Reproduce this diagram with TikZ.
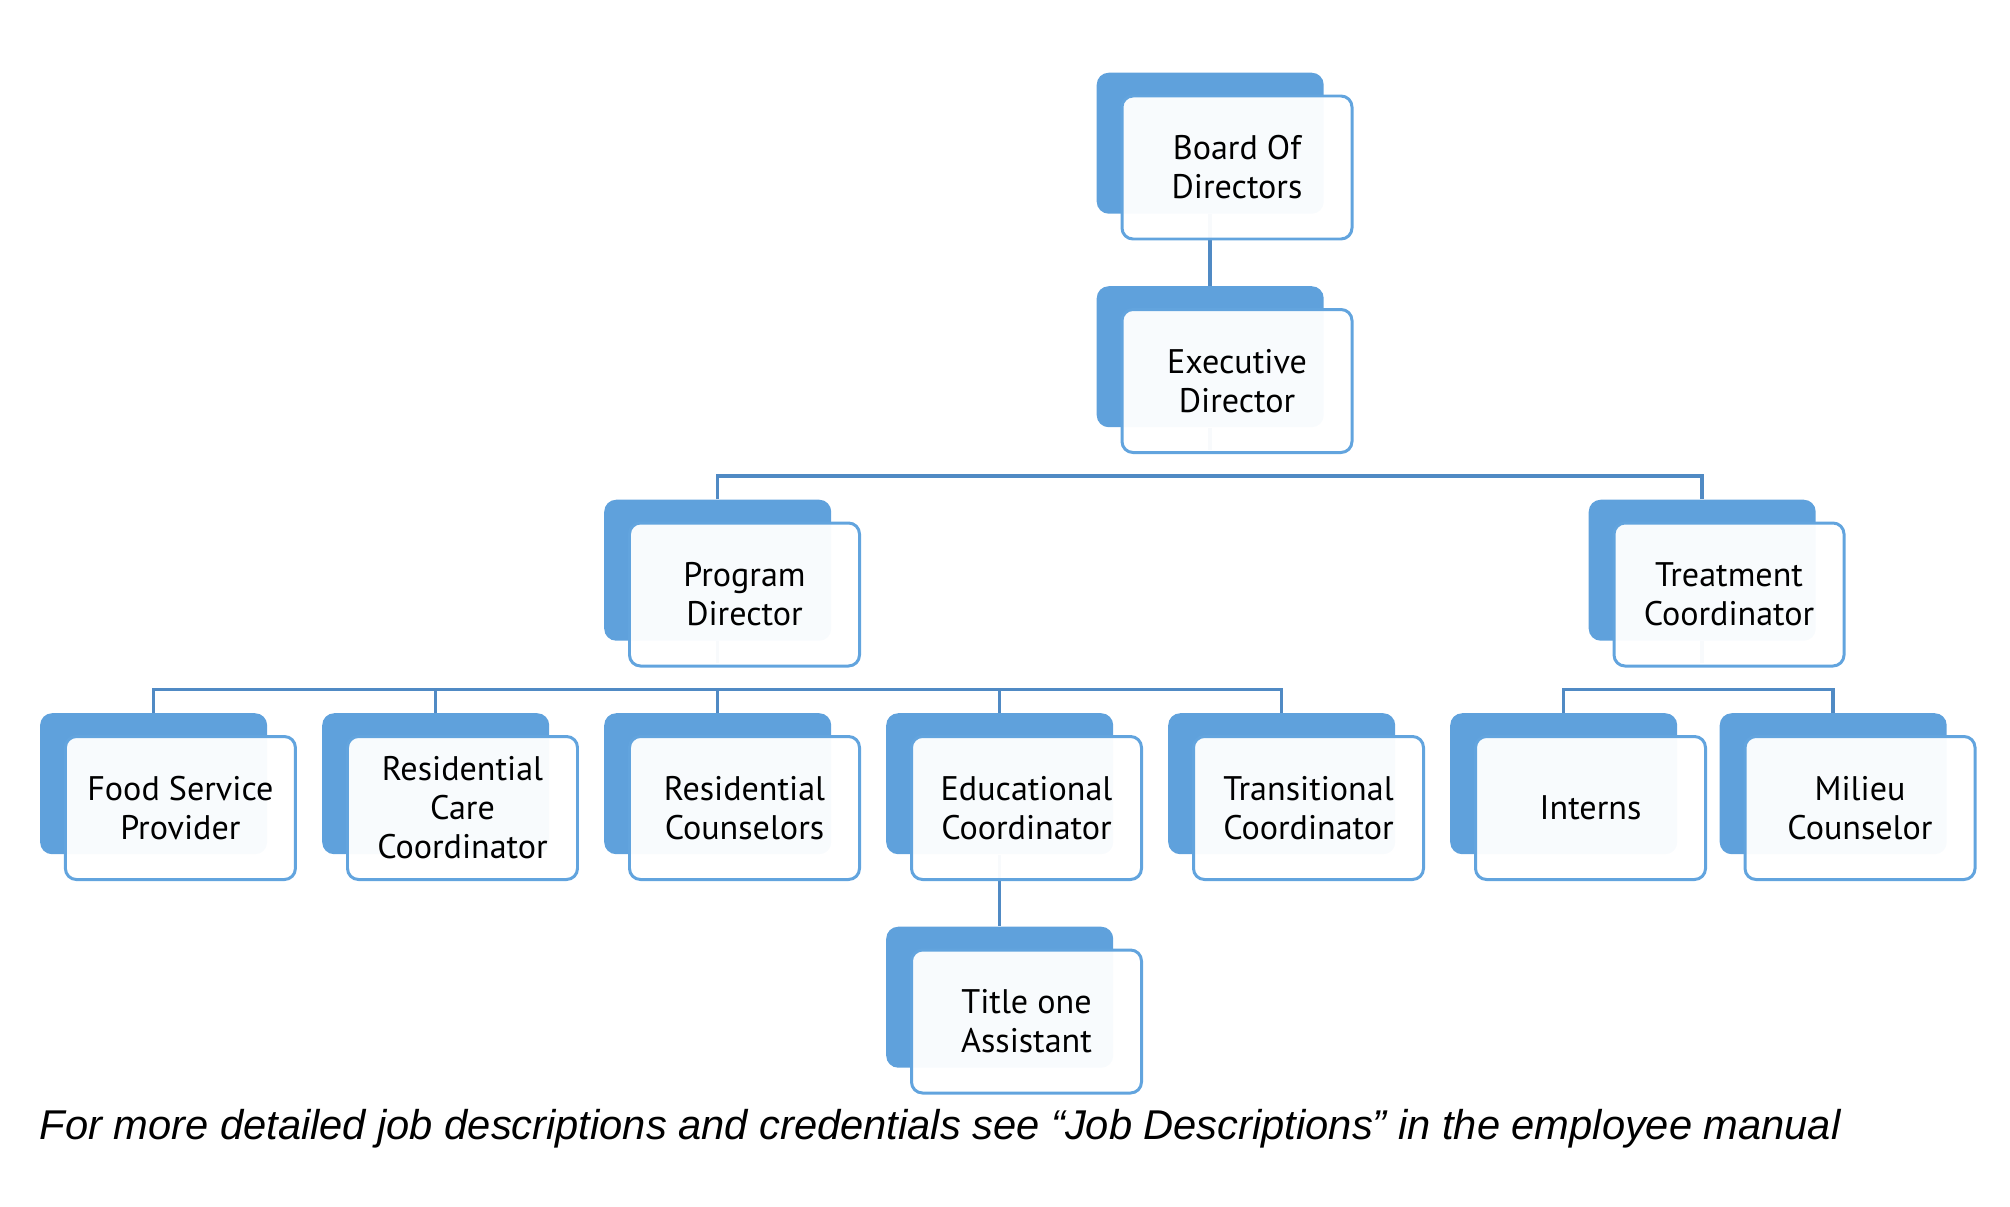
\documentclass[tikz,border=0pt]{standalone}
\usepackage{fontspec}
\setmainfont{PT Sans}
\newfontfamily\notefont{Liberation Sans}
\definecolor{backblue}{RGB}{95,161,220}
\definecolor{edgeblue}{RGB}{98,164,222}
\definecolor{linkblue}{RGB}{80,138,196}
\begin{document}
\begin{tikzpicture}[
    backbox/.style={rectangle, rounded corners=0.12cm, fill=backblue, minimum width=2.27cm, minimum height=1.41cm, inner sep=0pt, anchor=north west},
    frontbox/.style={rectangle, rounded corners=0.11cm, draw=edgeblue, line width=0.85pt, fill=white, fill opacity=0.96, text opacity=1, minimum width=2.30cm, minimum height=1.43cm, inner sep=0pt, align=center, font=\fontsize{9.7}{11.1}\selectfont, anchor=north west},
    link/.style={draw=linkblue, line width=1pt}
  ]
  \useasboundingbox (0,0) rectangle (20.1,-12.06);
  % 后面的蓝色方块
  \foreach \name/\x/\y in {board/10.96/-0.72, exec/10.96/-2.855,
      prog/6.035/-4.99, treat/15.88/-4.99,
      food/0.394/-7.125, care/3.215/-7.125, couns/6.035/-7.125, educ/8.855/-7.125,
      trans/11.675/-7.125, intern/14.495/-7.125, milieu/17.19/-7.125,
      title/8.855/-9.26}
    \node[backbox] (\name-b) at (\x,\y) {};
  % 连线
  \draw[link] (board-b.south) -- (exec-b.north);
  \draw[link] (exec-b.south) -- ++(0,-0.22);
  \draw[link] (prog-b.north) -- ++(0,0.23) -| (treat-b.north);
  \draw[link] (prog-b.south) -- ++(0,-0.22);
  \draw[link] (food-b.north) -- ++(0,0.23) -| (trans-b.north);
  \foreach \n in {care,couns,educ}
    \draw[link] (\n-b.north) -- ++(0,0.23);
  \draw[link] (treat-b.south) -- ++(0,-0.22);
  \draw[link] (intern-b.north) -- ++(0,0.23) -| (milieu-b.north);
  \draw[link] (educ-b.south) -- (title-b.north);
  % 前面的白色方块
  \foreach \name/\txt in {board/{Board Of\\Directors}, exec/{Executive\\Director},
      prog/{Program\\Director}, treat/{Treatment\\Coordinator},
      food/{Food Service\\Provider}, care/{Residential\\Care\\Coordinator},
      couns/{Residential\\Counselors}, educ/{Educational\\Coordinator},
      trans/{Transitional\\Coordinator}, intern/{Interns},
      milieu/{Milieu\\Counselor}, title/{Title one\\Assistant}}
    \node[frontbox] (\name) at ([shift={(0.245,-0.225)}]\name-b.north west) {\txt};
  % 说明
  \node[anchor=base west, inner sep=0pt, font=\notefont\itshape\fontsize{11.85}{14}\selectfont] (note) at (0.39,-11.39)
    {For more detailed job descriptions and credentials see “Job Descriptions” in the employee manual};
\end{tikzpicture}
\end{document}
